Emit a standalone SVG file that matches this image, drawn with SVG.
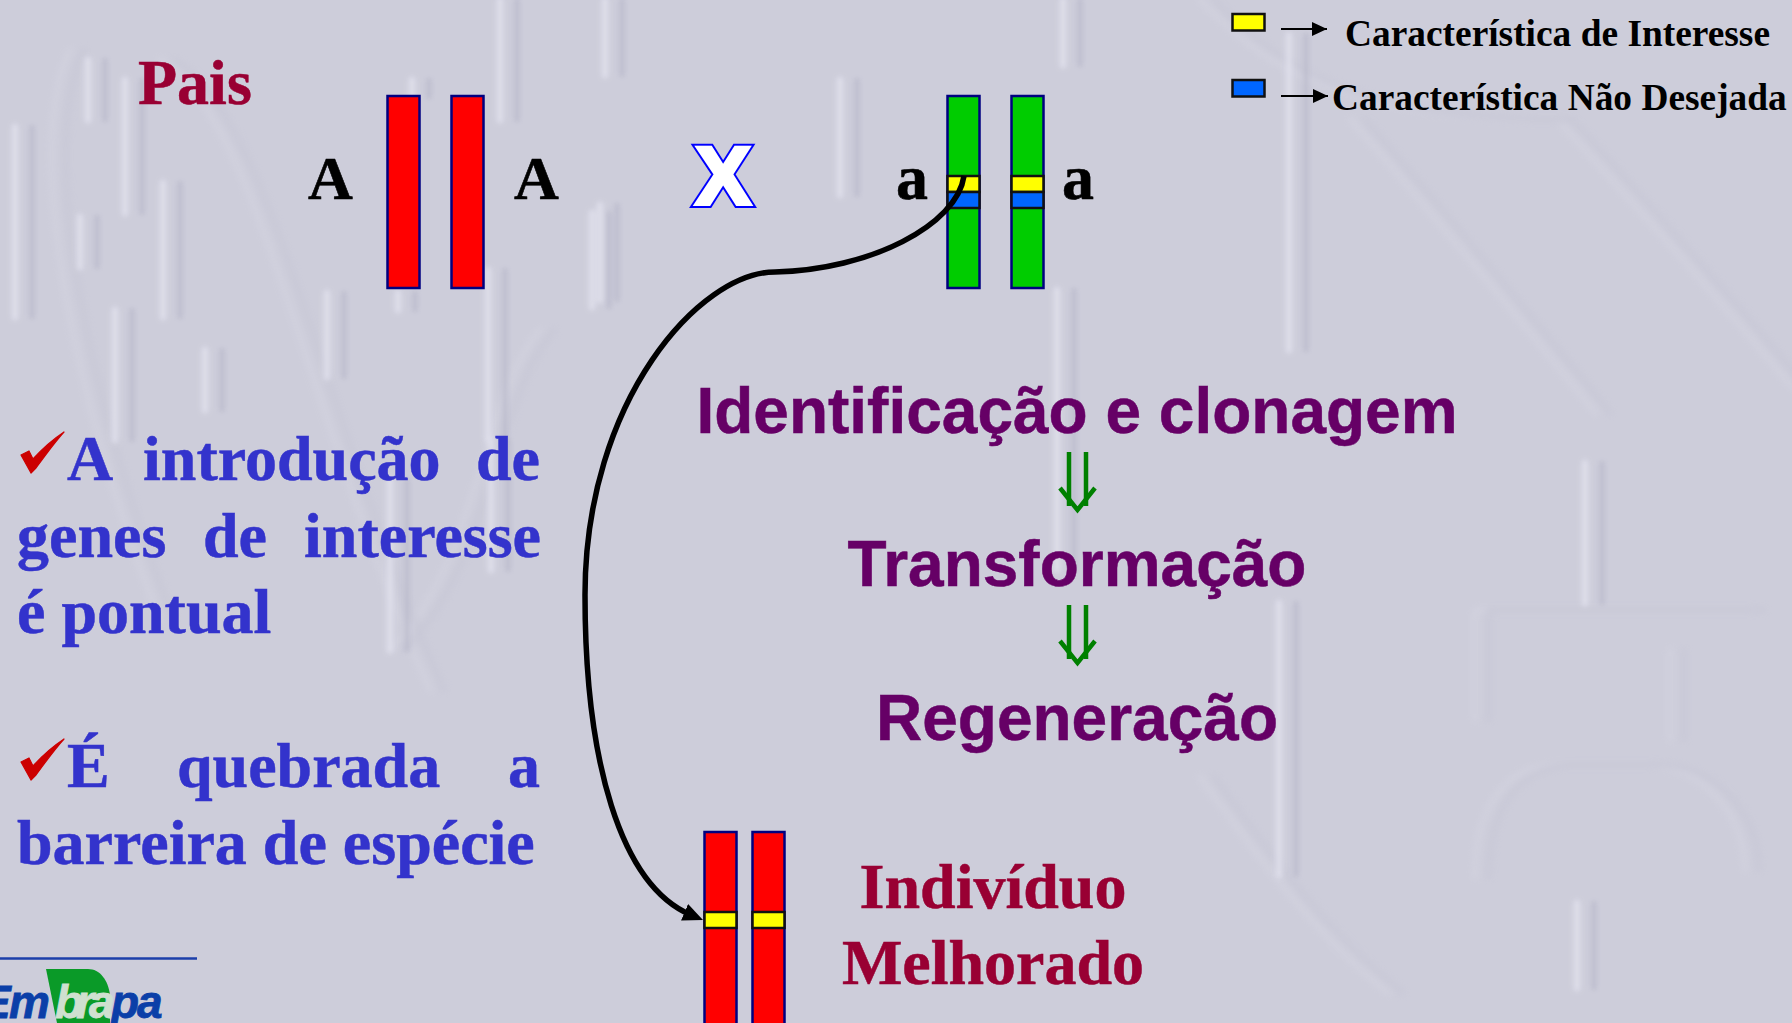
<svg xmlns="http://www.w3.org/2000/svg" width="1792" height="1023" viewBox="0 0 1792 1023">
<defs>
<style>
.serif{font-family:"Liberation Serif","Times New Roman",serif;font-weight:bold}
.sans{font-family:"Liberation Sans",Arial,sans-serif;font-weight:bold}
.allele{font-size:62px;fill:#000;stroke:#000;stroke-width:.6}
.small-a{font-size:64px}
.title{font-size:64px;fill:#990033;stroke:#990033;stroke-width:.5}
.note{font-size:64px;fill:#3333cc;stroke:#3333cc;stroke-width:.5}
.step{font-size:64px;fill:#660066;stroke:#660066;stroke-width:.5;text-anchor:middle}
.legend{font-size:37.400px;fill:#000}
.chrom{stroke:#000080;stroke-width:2.500}
.band{stroke:#111;stroke-width:2.500}
.emboss{fill:none;stroke-linecap:round}
</style>
<marker id="tip-small" markerUnits="userSpaceOnUse" markerWidth="16" markerHeight="16" refX="15" refY="7" orient="auto"><path d="M0 0L15 7L0 14Z" fill="#000"/></marker>
<marker id="tip" markerUnits="userSpaceOnUse" markerWidth="22" markerHeight="20" refX="7" refY="9" orient="auto"><path d="M0 0L20 9L0 18Z" fill="#000"/></marker>
<filter id="soft" x="-10%" y="-10%" width="120%" height="120%"><feGaussianBlur stdDeviation="2.500"/></filter>
<filter id="softer" x="-10%" y="-10%" width="120%" height="120%"><feGaussianBlur stdDeviation="3.500"/></filter>
<path id="check" d="M1 17L9 13L13 21C22 11 32 2 44 -6C34 5 24 19 16 30L11 35Z" fill="#cc0000" stroke="#cc0000" stroke-width="1.200" stroke-linejoin="round"/>
<g id="dbl"><path d="M0 0V54M17 0V54" fill="none" stroke="#008000" stroke-width="4.500"/><path d="M-9 36L8.500 58L26 36" fill="none" stroke="#008000" stroke-width="4.500"/></g>
<path id="bars" d="M88 60V120M125 80V213M15 127V317M163 183V317M80 217V267M115 310V440M205 350V410M327 293V377M398 293V310M412 80V97M500 0V120M488 270V440M592 213V307M605 0V75M840 80V195M1063 0V65M600 205V300M1289 35V350M1585 463V603M1279 603V875M1577 903V988M1057 290V570M491 440V570M390 480V650"/>
<path id="arcs" d="M1558 120C1640 210 1720 300 1792 387M1351 120C1430 210 1520 320 1596 413M1200 777C1260 860 1320 940 1389 993M1475 877C1475 800 1510 765 1560 765H1650C1710 770 1745 820 1745 870M1475 610H1750M1475 610V720M1670 650V740M70 50C20 150 80 420 160 620M160 60C260 120 300 400 430 690M390 650C480 560 480 400 540 330M1200 0C1260 60 1330 120 1558 120"/>
</defs>

<rect width="1792" height="1023" fill="#cdcdda"/>

<!-- embossed watermark: each bar is a highlight with a shadow to its right -->
<g class="emboss">
<g filter="url(#softer)" opacity=".35">
<use href="#arcs" stroke="#dadae6" stroke-width="6"/>
<use href="#arcs" stroke="#c0c0d0" stroke-width="5" x="14"/>
</g>
<g filter="url(#soft)" opacity=".85">
<use href="#bars" stroke="#e0e0ec" stroke-width="7"/>
<use href="#bars" stroke="#b9b9ca" stroke-width="4.500" x="17"/>
</g>
</g>

<g id="title-pais"><text class="serif title" x="138" y="103.500">Pais</text></g>

<g id="parent-AA">
<text class="serif allele" x="308" y="199">A</text>
<rect class="chrom" x="387.500" y="96" width="32" height="192" fill="#ff0000"/>
<rect class="chrom" x="451.500" y="96" width="32" height="192" fill="#ff0000"/>
<text class="serif allele" x="514" y="199">A</text>
</g>

<g id="cross">
<text class="sans" x="723" y="203.500" font-size="82" fill="#0000ff" stroke="#0000ff" stroke-width="8" stroke-linejoin="miter" text-anchor="middle">X</text>
<text class="sans" x="723" y="203.500" font-size="82" fill="#fff" stroke="#fff" stroke-width="4" stroke-linejoin="miter" text-anchor="middle">X</text>
</g>

<g id="parent-aa">
<text class="serif allele small-a" x="896" y="199">a</text>
<rect class="chrom" x="947.500" y="96" width="32" height="192" fill="#00cc00"/>
<rect class="band" x="947.500" y="176" width="32" height="16" fill="#ffff00"/>
<rect class="band" x="947.500" y="192" width="32" height="16" fill="#0066ff"/>
<rect class="chrom" x="1011.500" y="96" width="32" height="192" fill="#00cc00"/>
<rect class="band" x="1011.500" y="176" width="32" height="16" fill="#ffff00"/>
<rect class="band" x="1011.500" y="192" width="32" height="16" fill="#0066ff"/>
<text class="serif allele small-a" x="1062" y="199">a</text>
</g>

<g id="legend">
<rect class="band" x="1232.500" y="14" width="32" height="16.500" fill="#ffff00"/>
<rect class="band" x="1232.500" y="80" width="32" height="16.500" fill="#0066ff"/>
<text class="serif legend" x="1345" y="46">Característica de Interesse</text>
<text class="serif legend" x="1332" y="110">Característica Não Desejada</text>
</g>

<g id="connectors">
<path d="M1281 29H1327" stroke="#000" stroke-width="2" fill="none" marker-end="url(#tip-small)"/>
<path d="M1281 96H1328" stroke="#000" stroke-width="2" fill="none" marker-end="url(#tip-small)"/>
<path d="M964 176C957 225 870 270 775 272C700 272 585 400 585 595C585 760 620 885 691 915" stroke="#000" stroke-width="5.500" fill="none" marker-end="url(#tip)"/>
</g>

<g id="note-introducao">
<use href="#check" x="20" y="438"/>
<g class="serif note">
<text x="67" y="480">A</text><text x="143" y="480">introdução</text><text x="540" y="480" text-anchor="end">de</text>
<text x="17" y="557">genes</text><text x="203" y="557">de</text><text x="541" y="557" text-anchor="end">interesse</text>
<text x="17" y="633">é pontual</text>
</g>
</g>

<g id="note-barreira">
<use href="#check" x="20" y="745"/>
<g class="serif note">
<text x="67" y="787">É</text><text x="177" y="787">quebrada</text><text x="540" y="787" text-anchor="end">a</text>
<text x="17" y="864">barreira de espécie</text>
</g>
</g>

<g id="step-identificacao"><text class="sans step" x="1077" y="433">Identificação e clonagem</text></g>
<g id="arrow-1"><use href="#dbl" x="1069" y="452"/></g>
<g id="step-transformacao"><text class="sans step" x="1077" y="586">Transformação</text></g>
<g id="arrow-2"><use href="#dbl" x="1069" y="605"/></g>
<g id="step-regeneracao"><text class="sans step" x="1077" y="740">Regeneração</text></g>

<g id="offspring">
<rect class="chrom" x="704.500" y="832" width="32" height="200" fill="#ff0000"/>
<rect class="band" x="704.500" y="912" width="32" height="16" fill="#ffff00"/>
<rect class="chrom" x="752.500" y="832" width="32" height="200" fill="#ff0000"/>
<rect class="band" x="752.500" y="912" width="32" height="16" fill="#ffff00"/>
<text class="serif title" x="993" y="907.500" text-anchor="middle">Indivíduo</text>
<text class="serif title" x="993" y="984" text-anchor="middle">Melhorado</text>
</g>

<g id="logo">
<path d="M0 958.500H197" stroke="#1c3faa" stroke-width="2.500" fill="none"/>
<path d="M46 969H88C100 969 108 980 110 995V1023H57Z" fill="#0a9a28"/>
<text class="sans" y="1018" font-size="46" font-style="italic" stroke-width=".8"><tspan x="-20 9" fill="#0b3fa8" stroke="#0b3fa8">Em</tspan><tspan x="55 76 89" fill="#cfe0d0" stroke="#cfe0d0">bra</tspan><tspan x="111 137" fill="#0b3fa8" stroke="#0b3fa8">pa</tspan></text>
</g>
</svg>
